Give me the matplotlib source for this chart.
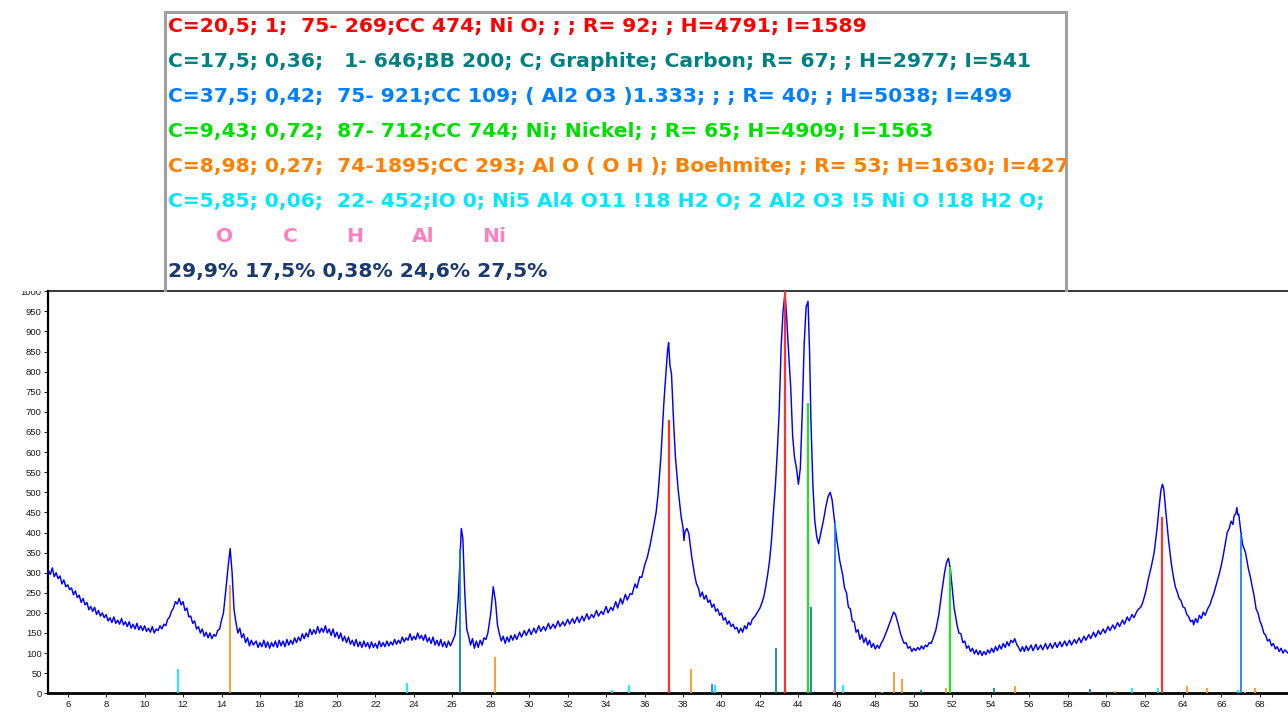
import matplotlib
matplotlib.use('Agg')
import matplotlib.pyplot as plt
from matplotlib.patches import Rectangle

W, H = 1288, 713

pattern_points = [
    (5.0, 305), (5.1, 296), (5.2, 312), (5.3, 290), (5.4, 300), (5.5, 285), (5.6, 292),
    (5.7, 272), (5.8, 282), (5.9, 265), (6.0, 270), (6.1, 258), (6.2, 262), (6.3, 245),
    (6.4, 255), (6.5, 238), (6.6, 244), (6.7, 226), (6.8, 236), (6.9, 220), (7.0, 226),
    (7.1, 208), (7.2, 216), (7.3, 204), (7.4, 214), (7.5, 196), (7.6, 206), (7.7, 192),
    (7.8, 200), (7.9, 188), (8.0, 196), (8.1, 180), (8.2, 188), (8.3, 176), (8.4, 190),
    (8.5, 174), (8.6, 182), (8.7, 172), (8.8, 186), (8.9, 170), (9.0, 178), (9.1, 166),
    (9.2, 178), (9.3, 162), (9.4, 172), (9.5, 160), (9.6, 174), (9.7, 158), (9.8, 168),
    (9.9, 156), (10.0, 168), (10.1, 154), (10.2, 162), (10.3, 152), (10.4, 166), (10.5, 150),
    (10.6, 160), (10.7, 156), (10.8, 168), (10.9, 160), (11.0, 172), (11.1, 168), (11.2, 184),
    (11.3, 190), (11.4, 204), (11.5, 212), (11.6, 228), (11.7, 222), (11.8, 236), (11.9, 220),
    (12.0, 228), (12.1, 206), (12.2, 212), (12.3, 190), (12.4, 192), (12.5, 174), (12.6, 180),
    (12.7, 160), (12.8, 166), (12.9, 150), (13.0, 160), (13.1, 142), (13.2, 152), (13.3, 138),
    (13.4, 150), (13.5, 136), (13.6, 146), (13.7, 142), (13.8, 156), (13.9, 160), (14.0, 182),
    (14.1, 200), (14.2, 246), (14.35, 318), (14.45, 360), (14.55, 300), (14.65, 208),
    (14.75, 176), (14.85, 150), (14.95, 162), (15.05, 138), (15.15, 148), (15.25, 126),
    (15.35, 138), (15.45, 118), (15.55, 132), (15.65, 120), (15.8, 130), (15.9, 114),
    (16.0, 126), (16.1, 116), (16.2, 132), (16.3, 114), (16.4, 128), (16.5, 112), (16.6, 126),
    (16.7, 116), (16.8, 130), (16.9, 114), (17.0, 132), (17.1, 118), (17.2, 130), (17.3, 116),
    (17.4, 134), (17.5, 120), (17.6, 132), (17.7, 122), (17.8, 138), (17.9, 126), (18.0, 140),
    (18.1, 130), (18.2, 148), (18.3, 136), (18.4, 150), (18.5, 140), (18.6, 160), (18.7, 146),
    (18.8, 158), (18.9, 148), (19.0, 166), (19.1, 150), (19.2, 162), (19.3, 152), (19.4, 168),
    (19.5, 150), (19.6, 160), (19.7, 144), (19.8, 160), (19.9, 140), (20.0, 152), (20.1, 136),
    (20.2, 150), (20.3, 130), (20.4, 142), (20.5, 126), (20.6, 140), (20.7, 122), (20.8, 132),
    (20.9, 118), (21.0, 134), (21.1, 116), (21.2, 128), (21.3, 114), (21.4, 130), (21.5, 116),
    (21.6, 126), (21.7, 112), (21.8, 128), (21.9, 114), (22.0, 124), (22.1, 112), (22.2, 130),
    (22.3, 116), (22.4, 126), (22.5, 116), (22.6, 130), (22.7, 118), (22.8, 128), (22.9, 120),
    (23.0, 134), (23.1, 122), (23.2, 132), (23.3, 124), (23.4, 140), (23.5, 128), (23.6, 138),
    (23.7, 132), (23.8, 148), (23.9, 132), (24.0, 142), (24.1, 134), (24.2, 150), (24.3, 136),
    (24.4, 144), (24.5, 132), (24.6, 146), (24.7, 128), (24.8, 138), (24.9, 124), (25.0, 140),
    (25.1, 120), (25.2, 132), (25.3, 118), (25.4, 134), (25.5, 116), (25.6, 128), (25.7, 114),
    (25.8, 130), (25.9, 118), (26.0, 128), (26.15, 146), (26.3, 230), (26.4, 330),
    (26.47, 410), (26.55, 385), (26.65, 250), (26.75, 160), (26.85, 142), (26.95, 120),
    (27.05, 136), (27.15, 112), (27.25, 130), (27.35, 114), (27.45, 132), (27.55, 120),
    (27.65, 138), (27.75, 134), (27.85, 150), (28.0, 198), (28.13, 265), (28.25, 228),
    (28.35, 170), (28.45, 148), (28.55, 130), (28.65, 142), (28.75, 124), (28.85, 140),
    (28.95, 128), (29.05, 144), (29.15, 132), (29.25, 146), (29.35, 134), (29.5, 152),
    (29.6, 140), (29.75, 156), (29.85, 144), (30.0, 160), (30.1, 146), (30.25, 162),
    (30.35, 150), (30.5, 168), (30.6, 154), (30.75, 166), (30.85, 156), (31.0, 174),
    (31.1, 160), (31.25, 172), (31.35, 162), (31.5, 180), (31.6, 166), (31.75, 178),
    (31.85, 168), (32.0, 184), (32.1, 172), (32.25, 186), (32.35, 174), (32.5, 190),
    (32.6, 176), (32.75, 192), (32.85, 180), (33.0, 198), (33.1, 184), (33.25, 196),
    (33.35, 188), (33.5, 206), (33.6, 192), (33.75, 204), (33.85, 196), (34.0, 216),
    (34.1, 200), (34.25, 214), (34.35, 206), (34.5, 228), (34.6, 212), (34.75, 236),
    (34.85, 222), (35.0, 246), (35.1, 232), (35.25, 248), (35.35, 246), (35.5, 272),
    (35.6, 262), (35.75, 290), (35.85, 288), (36.0, 318), (36.15, 340), (36.3, 372),
    (36.45, 410), (36.6, 450), (36.7, 495), (36.85, 590), (37.0, 720), (37.1, 790),
    (37.2, 855), (37.25, 872), (37.32, 815), (37.4, 795), (37.5, 685), (37.6, 590),
    (37.75, 505), (37.9, 440), (38.0, 412), (38.05, 380), (38.1, 402), (38.2, 410),
    (38.3, 398), (38.45, 340), (38.6, 295), (38.7, 272), (38.8, 262), (38.9, 240),
    (39.0, 252), (39.1, 234), (39.2, 244), (39.3, 226), (39.4, 232), (39.5, 214), (39.6, 222),
    (39.7, 204), (39.8, 210), (39.9, 194), (40.0, 200), (40.1, 182), (40.2, 188), (40.3, 172),
    (40.4, 180), (40.5, 166), (40.6, 172), (40.7, 160), (40.8, 164), (40.9, 150), (41.0, 162),
    (41.1, 152), (41.2, 168), (41.3, 160), (41.4, 176), (41.5, 170), (41.6, 184),
    (41.75, 192), (41.9, 204), (42.0, 212), (42.1, 225), (42.2, 240), (42.3, 265),
    (42.4, 295), (42.5, 330), (42.6, 380), (42.7, 450), (42.8, 515), (42.9, 600), (43.0, 700),
    (43.1, 860), (43.2, 950), (43.3, 995), (43.35, 965), (43.4, 925), (43.5, 840), (43.6, 760),
    (43.7, 640), (43.8, 585), (43.9, 560), (44.0, 520), (44.1, 560), (44.2, 700), (44.3, 870),
    (44.4, 960), (44.5, 975), (44.58, 850), (44.65, 680), (44.75, 520), (44.85, 430),
    (44.95, 390), (45.05, 372), (45.15, 395), (45.3, 430), (45.45, 470), (45.55, 490),
    (45.65, 500), (45.75, 482), (45.85, 440), (46.0, 380), (46.15, 330), (46.3, 295),
    (46.4, 262), (46.5, 250), (46.6, 214), (46.7, 210), (46.8, 180), (46.9, 178), (47.0, 152),
    (47.1, 158), (47.2, 134), (47.3, 146), (47.4, 126), (47.5, 138), (47.6, 120), (47.7, 132),
    (47.8, 114), (47.9, 124), (48.0, 110), (48.1, 120), (48.2, 112), (48.3, 124), (48.4, 132),
    (48.5, 144), (48.65, 162), (48.8, 182), (48.95, 202), (49.05, 196), (49.2, 170),
    (49.3, 150), (49.4, 136), (49.5, 124), (49.6, 126), (49.7, 112), (49.8, 116), (49.9, 104),
    (50.0, 112), (50.1, 106), (50.2, 114), (50.3, 108), (50.4, 118), (50.5, 110), (50.6, 120),
    (50.7, 116), (50.8, 126), (50.9, 124), (51.0, 136), (51.15, 158), (51.3, 195),
    (51.45, 250), (51.6, 300), (51.7, 325), (51.8, 336), (51.9, 310), (52.0, 262),
    (52.1, 212), (52.25, 170), (52.35, 150), (52.45, 148), (52.55, 126), (52.65, 130),
    (52.75, 112), (52.85, 118), (52.95, 104), (53.05, 112), (53.15, 98), (53.25, 108),
    (53.35, 96), (53.45, 106), (53.55, 94), (53.65, 104), (53.75, 96), (53.85, 108),
    (53.95, 100), (54.05, 112), (54.15, 102), (54.25, 116), (54.35, 106), (54.45, 120),
    (54.55, 110), (54.65, 124), (54.75, 114), (54.85, 128), (54.95, 118), (55.05, 132),
    (55.15, 126), (55.25, 136), (55.35, 122), (55.45, 114), (55.55, 104), (55.65, 116),
    (55.75, 104), (55.85, 118), (55.95, 106), (56.1, 120), (56.2, 106), (56.35, 122),
    (56.45, 108), (56.6, 120), (56.7, 108), (56.85, 124), (56.95, 110), (57.1, 124),
    (57.2, 112), (57.35, 126), (57.45, 114), (57.6, 128), (57.7, 116), (57.85, 130),
    (57.95, 118), (58.1, 132), (58.2, 120), (58.35, 134), (58.45, 124), (58.6, 138),
    (58.7, 126), (58.85, 142), (58.95, 132), (59.1, 146), (59.2, 136), (59.35, 152),
    (59.45, 140), (59.6, 156), (59.7, 146), (59.85, 160), (59.95, 150), (60.1, 166),
    (60.2, 156), (60.35, 170), (60.45, 160), (60.6, 176), (60.7, 166), (60.85, 182),
    (60.95, 172), (61.1, 190), (61.2, 180), (61.35, 196), (61.45, 188), (61.6, 204),
    (61.7, 210), (61.8, 214), (61.9, 225), (62.05, 250), (62.2, 285), (62.35, 315),
    (62.5, 350), (62.65, 410), (62.75, 460), (62.85, 505), (62.93, 520), (63.0, 508),
    (63.1, 455), (63.25, 380), (63.4, 320), (63.5, 290), (63.6, 265), (63.7, 252),
    (63.8, 236), (63.9, 230), (64.0, 215), (64.1, 212), (64.2, 196), (64.3, 190),
    (64.4, 178), (64.5, 182), (64.55, 170), (64.65, 186), (64.75, 176), (64.85, 194),
    (64.95, 186), (65.05, 202), (65.15, 194), (65.3, 212), (65.4, 220), (65.5, 235),
    (65.6, 248), (65.7, 265), (65.8, 282), (65.9, 300), (66.0, 320), (66.1, 345),
    (66.2, 372), (66.3, 400), (66.4, 410), (66.5, 428), (66.6, 420), (66.65, 440),
    (66.75, 448), (66.8, 462), (66.85, 444), (66.9, 445), (67.0, 405), (67.1, 370),
    (67.25, 350), (67.4, 310), (67.5, 290), (67.6, 265), (67.7, 242), (67.8, 210),
    (67.9, 200), (68.0, 180), (68.1, 168), (68.2, 150), (68.3, 144), (68.4, 130),
    (68.5, 134), (68.6, 118), (68.7, 124), (68.8, 110), (68.9, 116), (69.0, 104),
    (69.1, 112), (69.2, 100), (69.3, 108), (69.46, 100),
]
two_theta = [p[0] for p in pattern_points]
intensity = [p[1] for p in pattern_points]

# ---- reference stick patterns (position, relative intensity) ----
nio_pos = [37.25, 43.29, 62.93]
nio_int = [680, 1000, 439]
graphite_pos = [26.42, 42.82, 44.63, 50.37, 54.17, 59.15]
graphite_int = [360, 112, 215, 7, 12, 10]
al2o3_pos = [39.53, 45.91, 67.0]
al2o3_int = [23, 423, 394]
ni_pos = [44.52, 51.86]
ni_int = [721, 315]
boehmite_pos = [14.45, 28.2, 38.41, 45.86, 48.98, 49.37, 51.7, 55.28, 60.47, 64.22, 65.23, 67.22, 67.75]
boehmite_int = [269, 91, 60, 8, 54, 35, 14, 18, 6, 18, 13, 3, 14]
nial_pos = [11.72, 23.66, 34.32, 35.17, 39.68, 46.3, 48.36, 61.35, 62.71, 66.88]
nial_int = [60, 26, 8, 21, 21, 21, 3, 14, 14, 9]

x_ticks = list(range(6, 70, 2))
y_ticks = list(range(0, 1001, 50))

legend_lines = [
    "C=20,5; 1;  75- 269;CC 474; Ni O; ; ; R= 92; ; H=4791; I=1589",
    "C=17,5; 0,36;   1- 646;BB 200; C; Graphite; Carbon; R= 67; ; H=2977; I=541",
    "C=37,5; 0,42;  75- 921;CC 109; ( Al2 O3 )1.333; ; ; R= 40; ; H=5038; I=499",
    "C=9,43; 0,72;  87- 712;CC 744; Ni; Nickel; ; R= 65; H=4909; I=1563",
    "C=8,98; 0,27;  74-1895;CC 293; Al O ( O H ); Boehmite; ; R= 53; H=1630; I=427",
    "C=5,85; 0,06;  22- 452;IO 0; Ni5 Al4 O11 !18 H2 O; 2 Al2 O3 !5 Ni O !18 H2 O; ",
]
legend_colors = ['#ff0000', '#008080', '#0080ff', '#00e000', '#ff8000', '#00e8ff']
elements = ['O', 'C', 'H', 'Al', 'Ni']
percentages = "29,9% 17,5% 0,38% 24,6% 27,5%"

# ---- figure ----
fig = plt.figure(figsize=(W / 100, H / 100), dpi=100)
fig.patch.set_facecolor('white')


def fx(px):
    return px / W


def fy(py):
    return 1 - py / H


x0, x1 = 4.976, 69.46
ax_left, ax_right = 48, 1288
ax_top, ax_bot = 291.3, 693.3
ax = fig.add_axes([fx(ax_left), fy(ax_bot), fx(ax_right - ax_left), (ax_bot - ax_top) / H])
ax.set_xlim(x0, x1)
ax.set_ylim(0, 1000)

ax.plot(two_theta, intensity, color='#0000ff', lw=1.05, zorder=3)

stick_sets = [
    (nio_pos, nio_int, '#ff3030', 1.6),
    (graphite_pos, graphite_int, '#108a88', 1.3),
    (al2o3_pos, al2o3_int, '#1a80ff', 1.3),
    (ni_pos, ni_int, '#22e022', 1.6),
    (boehmite_pos, boehmite_int, '#ff9428', 1.3),
    (nial_pos, nial_int, '#00f0ff', 1.3),
]
for pos, inten, col, lw in stick_sets:
    ax.vlines(pos, 0, inten, colors=col, lw=lw, zorder=4)

ax.set_xticks(x_ticks)
ax.set_yticks(y_ticks)
ax.tick_params(axis='both', labelsize=6.8, colors='#1a1a1a', length=3, width=0.7,
               pad=1.5)
for lab in ax.get_xticklabels() + ax.get_yticklabels():
    lab.set_family(['Liberation Sans Narrow', 'Liberation Sans', 'DejaVu Sans'])
ax.spines['right'].set_visible(False)
ax.spines['left'].set_linewidth(1.6)
ax.spines['bottom'].set_linewidth(2.0)
ax.spines['top'].set_linewidth(1.1)

# cover the upper part of the top tick label (clipped widget area)
fig.add_artist(Rectangle((0, fy(291)), fx(46), 1 - fy(291), transform=fig.transFigure,
                         facecolor='white', edgecolor='none', zorder=10))

# ---- text box ----
bx0, bx1, by0, by1 = 165, 1066, 12, 290.5
tb = fig.add_axes([fx(bx0), fy(by1), fx(bx1 - bx0), (by1 - by0) / H], zorder=20)
tb.set_xlim(bx0, bx1)
tb.set_ylim(by1, by0)
tb.set_xticks([])
tb.set_yticks([])
tb.set_facecolor('white')
for s in ['left', 'top', 'right']:
    tb.spines[s].set_color('#a0a0a0')
    tb.spines[s].set_linewidth(2.2)
tb.spines['bottom'].set_visible(False)

fam = ['DejaVu Sans Condensed', 'DejaVu Sans']
fs = 14.0
baselines = [32, 67, 102, 137, 172, 207]
texts = []
for s, c, yy in zip(legend_lines, legend_colors, baselines):
    t = tb.text(168, yy, s, color=c, fontsize=fs, fontweight='bold',
                family=fam, va='baseline', ha='left', clip_on=True)
    texts.append(t)
el_x = [225, 290, 355, 423, 494]
for e, xx in zip(elements, el_x):
    t = tb.text(xx, 242, e, color='#ff80c0', fontsize=fs, fontweight='bold', family=fam,
                va='baseline', ha='center', clip_on=True)
    texts.append(t)
t = tb.text(168, 277, percentages, color='#1a3a6e', fontsize=fs,
            fontweight='bold', family=fam, va='baseline', ha='left', clip_on=True)
texts.append(t)

# fit the font size so the second line spans its measured width
fig.canvas.draw()
r = fig.canvas.get_renderer()
scale = (1032 - 168) / texts[1].get_window_extent(r).width
for t in texts:
    t.set_fontsize(fs * scale)

fig.savefig('out.png', dpi=100, facecolor='white')
